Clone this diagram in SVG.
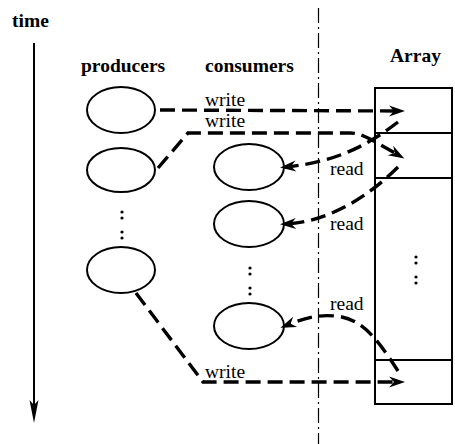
<svg xmlns="http://www.w3.org/2000/svg" width="455" height="444" viewBox="0 0 455 444">
<style>
.bold{font-family:"Liberation Serif",serif;font-weight:bold;font-size:19.5px;fill:#000}
.lbl{font-family:"Liberation Serif",serif;font-size:19.5px;fill:#000}
.node{fill:none;stroke:#000;stroke-width:2}
.conn{fill:none;stroke:#000;stroke-width:3.4;stroke-dasharray:15 7}
.dot{fill:#000}
</style>
<defs>
<marker id="ah" markerUnits="userSpaceOnUse" viewBox="-17 -7 18 14" refX="-5" refY="0" markerWidth="18" markerHeight="14" orient="auto" overflow="visible">
<path d="M0,0 L-16,-5.5 L-11,0 L-16,5.5 Z" fill="#000"/>
</marker>
</defs>
<rect width="455" height="444" fill="#fff"/>

<g id="time-axis">
<text class="bold" x="12" y="27">time</text>
<line x1="34" y1="43" x2="34" y2="406" stroke="#000" stroke-width="2"/>
<polygon points="34,423 29.5,400 34,405 38.5,400" fill="#000"/>
</g>

<g id="divider">
<line x1="318.5" y1="8" x2="318.5" y2="444" stroke="#000" stroke-width="1.2" stroke-dasharray="15 4 2 4"/>
</g>

<g id="headers">
<text class="bold" x="81" y="72">producers</text>
<text class="bold" x="205" y="72">consumers</text>
<text class="bold" x="390" y="62">Array</text>
</g>

<g id="producer1"><ellipse class="node" cx="121" cy="110" rx="34" ry="23"/></g>
<g id="producer2"><ellipse class="node" cx="121" cy="170" rx="34" ry="22"/></g>
<g id="producer-dots">
<circle class="dot" cx="122" cy="212" r="1.6"/><circle class="dot" cx="122" cy="218" r="1.6"/>
<circle class="dot" cx="122" cy="232" r="1.6"/><circle class="dot" cx="122" cy="238" r="1.6"/>
</g>
<g id="producer3"><ellipse class="node" cx="121" cy="270" rx="34" ry="23"/></g>

<g id="consumer1"><ellipse class="node" cx="249" cy="167" rx="35" ry="23"/></g>
<g id="consumer2"><ellipse class="node" cx="249" cy="224" rx="35" ry="23"/></g>
<g id="consumer-dots">
<circle class="dot" cx="250" cy="268" r="1.6"/><circle class="dot" cx="250" cy="274" r="1.6"/>
<circle class="dot" cx="250" cy="288" r="1.6"/><circle class="dot" cx="250" cy="294" r="1.6"/>
</g>
<g id="consumer3"><ellipse class="node" cx="249" cy="326" rx="35" ry="23"/></g>

<g id="array">
<rect class="node" x="375" y="88" width="77" height="316"/>
<line x1="375" y1="133" x2="452" y2="133" stroke="#000" stroke-width="2"/>
<line x1="375" y1="178" x2="452" y2="178" stroke="#000" stroke-width="2"/>
<line x1="375" y1="360" x2="452" y2="360" stroke="#000" stroke-width="2"/>
<circle class="dot" cx="416" cy="257" r="1.6"/><circle class="dot" cx="416" cy="263" r="1.6"/>
<circle class="dot" cx="416" cy="277" r="1.6"/><circle class="dot" cx="416" cy="283" r="1.6"/>
</g>

<g id="connectors">
<path class="conn" d="M160,110 L400,111" marker-end="url(#ah)"/>
<path class="conn" d="M158,168 L188,133 L350,133 C362,133 372,140 400,156" marker-end="url(#ah)"/>
<path class="conn" d="M398,122 C372,142 340,162 285,167" marker-end="url(#ah)"/>
<path class="conn" d="M398,167 C370,195 330,222 285,224" marker-end="url(#ah)"/>
<path class="conn" d="M398,371 C375,335 360,318 335,316 C315,314 300,320 285,326" marker-end="url(#ah)"/>
<path class="conn" d="M136,293 L203,382 L400,382" marker-end="url(#ah)"/>
<text class="lbl" x="205" y="106">write</text>
<text class="lbl" x="205" y="127">write</text>
<text class="lbl" x="205" y="378">write</text>
<text class="lbl" x="330" y="175">read</text>
<text class="lbl" x="330" y="230">read</text>
<text class="lbl" x="330" y="310">read</text>
</g>
</svg>
